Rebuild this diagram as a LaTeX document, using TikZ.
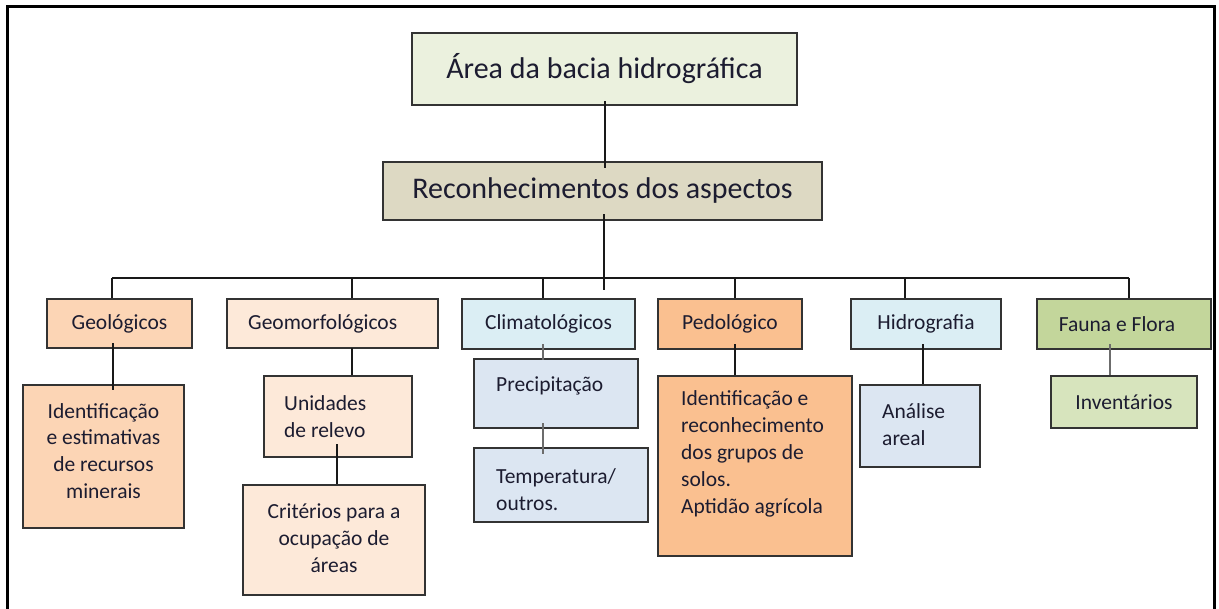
\documentclass[tikz,border=0pt]{standalone}
\usepackage{fontspec}
\setmainfont{Carlito}
\definecolor{txt}{HTML}{1C1C30}
\definecolor{bord}{HTML}{333333}
\definecolor{cTop}{HTML}{EBF1DE}
\definecolor{cRec}{HTML}{DDD9C3}
\definecolor{cGeo}{HTML}{FCD5B5}
\definecolor{cGm}{HTML}{FDE9D9}
\definecolor{cCli}{HTML}{DBEEF4}
\definecolor{cCliSub}{HTML}{DCE6F2}
\definecolor{cPed}{HTML}{FAC090}
\definecolor{cFau}{HTML}{C3D69B}
\definecolor{cInv}{HTML}{D7E4BD}
\tikzset{
  box/.style={draw=bord, line width=2.2pt, inner sep=0pt, text=txt},
  big/.style={font=\fontsize{30}{36}\selectfont},
  small/.style={font=\fontsize{21.5}{26.5}\selectfont},
  lbl/.style={text=txt, inner sep=0pt, font=\fontsize{21.5}{26.8}\selectfont},
  link/.style={draw=black!90, line width=2pt},
  glink/.style={draw=gray!85!black, line width=2.2pt},
}
\begin{document}
\begin{tikzpicture}[x=1pt,y=-1pt]
\useasboundingbox (0,0) rectangle (1219,609);
% outer frame
\draw[line width=3pt] (7,630) -- (7,7) -- (1214,7) -- (1214,630);

% boxes
\node[box, fill=cTop, minimum width=385pt, minimum height=72pt, big] (top) at (604.5,69) {Área da bacia hidrográfica};
\node[box, fill=cRec, minimum width=439pt, minimum height=58pt, big] (rec) at (602.5,191) {Reconhecimentos dos aspectos};

\node[box, fill=cGeo, minimum width=145pt, minimum height=49pt, small] (geo) at (119.5,323.5) {Geológicos};
\node[box, fill=cGeo, minimum width=161pt, minimum height=143pt] (geosub) at (103.5,456.5) {};
\node[box, fill=cGm, minimum width=211pt, minimum height=49pt] (gm) at (332.5,323.5) {};
\node[box, fill=cGm, minimum width=148pt, minimum height=81pt] (uni) at (338,416.5) {};
\node[box, fill=cGm, minimum width=182pt, minimum height=110pt] (crit) at (334,540) {};
\node[box, fill=cCli, minimum width=173pt, minimum height=50pt, small] (cli) at (548.5,324) {Climatológicos};
\node[box, fill=cCliSub, minimum width=164pt, minimum height=69pt] (prec) at (556,393.5) {};
\node[box, fill=cCliSub, minimum width=174pt, minimum height=74pt] (temp) at (561,485) {};
\node[box, fill=cPed, minimum width=144pt, minimum height=50pt, small] (ped) at (730,324) {Pedológico};
\node[box, fill=cPed, minimum width=194pt, minimum height=180pt] (pedsub) at (755,466) {};
\node[box, fill=cCli, minimum width=150pt, minimum height=50pt, small] (hid) at (926,324) {Hidrografia};
\node[box, fill=cCliSub, minimum width=120pt, minimum height=82pt] (ana) at (920,426) {};
\node[box, fill=cFau, minimum width=174pt, minimum height=50pt] (fau) at (1124,324) {};
\node[box, fill=cInv, minimum width=146pt, minimum height=52pt, small] (inv) at (1124,402) {Inventários};

% texts inside boxes
\node[lbl, align=center] (tgeosub) at (103.5,451) {Identificação\\e estimativas\\de recursos\\minerais};
\node[lbl, anchor=west] (tgm) at (248,323.5) {Geomorfológicos};
\node[lbl, anchor=west, align=left] (tuni) at (284,416.5) {Unidades\\de relevo};
\node[lbl, align=center] (tcrit) at (334,538) {Critérios para a\\ocupação de\\áreas};
\node[lbl, anchor=west] (tprec) at (496,386) {Precipitação};
\node[lbl, anchor=west, align=left] (ttemp) at (496,490) {Temperatura/\\outros.};
\node[lbl, anchor=west, align=left, font=\fontsize{21.5}{27}\selectfont] (tped) at (681,453.5) {Identificação e\\reconhecimento\\dos grupos de\\solos.\\Aptidão agrícola};
\node[lbl, anchor=west, align=left] (tana) at (882,425) {Análise\\areal};
\node[lbl] (tfau) at (1117,324) {Fauna e Flora};

% bus coordinates
\coordinate (busL) at (112,278);
\coordinate (busR) at (1129,278);
\coordinate (busC) at (604,290);

% connectors
\draw[link] ([yshift=5pt]top.south) -- ([yshift=-7pt]rec.north -| top.south);
\draw[link] ([xshift=1.5pt,yshift=7pt]rec.south) -- (busC);
\draw[link] (busL) -- (busR);
\draw[link] (busL) -- (geo.north -| busL);
\draw[link] (busL -| 352,0) -- (gm.north -| 352,0);
\draw[link] (busL -| 543,0) -- (cli.north -| 543,0);
\draw[link] (busL -| 735,0) -- (ped.north -| 735,0);
\draw[link] (busL -| 905,0) -- (hid.north -| 905,0);
\draw[link] (busR) -- (fau.north -| busR);

\draw[link] ([xshift=-6.5pt,yshift=6pt]geo.south) -- ([xshift=9.5pt,yshift=-6pt]geosub.north);
\draw[link] ([xshift=19.5pt,yshift=1pt]gm.south) -- ([xshift=14pt]uni.north);
\draw[link] ([xshift=-1pt,yshift=14pt]uni.south) -- ([xshift=3pt]crit.north);
\draw[glink] ([xshift=-5.5pt,yshift=6pt]cli.south) -- ([xshift=-13pt,yshift=-2pt]prec.north);
\draw[glink] ([xshift=-13pt,yshift=6pt]prec.south) -- ([xshift=-18pt,yshift=-7pt]temp.north);
\draw[link] ([xshift=5pt,yshift=6pt]ped.south) -- ([xshift=-20pt]pedsub.north);
\draw[link] ([xshift=-3pt,yshift=6pt]hid.south) -- ([xshift=3pt]ana.north);
\draw[glink] ([xshift=-14pt,yshift=6pt]fau.south) -- ([xshift=-14pt]inv.north);
\end{tikzpicture}
\end{document}
